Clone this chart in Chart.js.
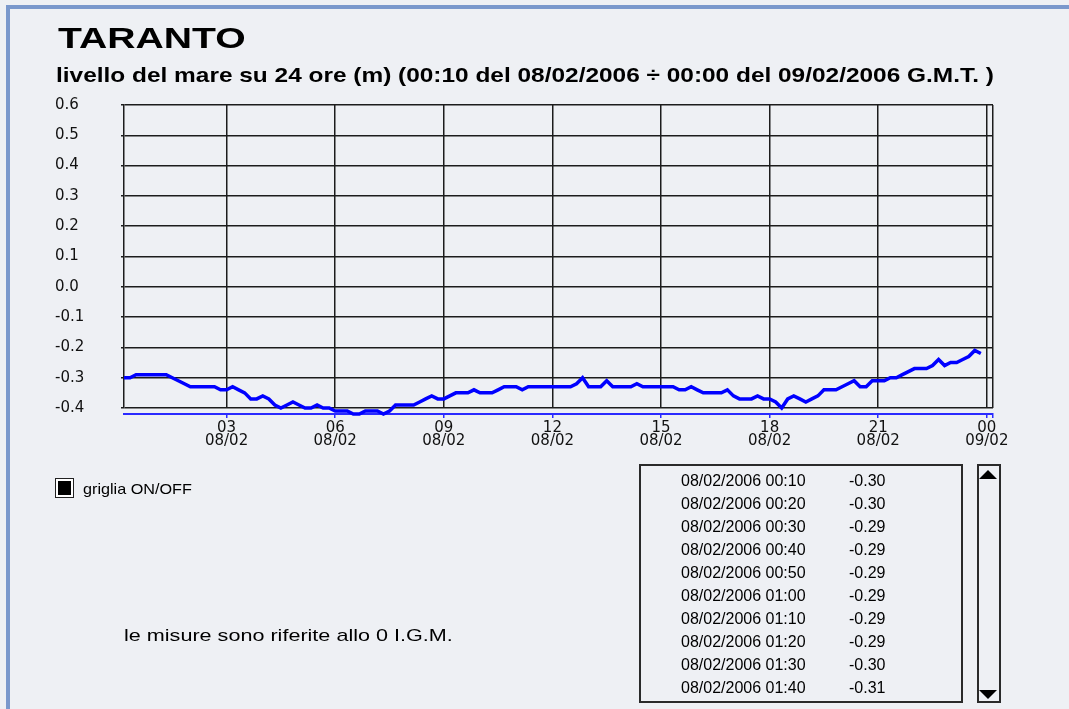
<!DOCTYPE html>
<html><head><meta charset="utf-8">
<script src="https://cdn.jsdelivr.net/npm/chart.js@4.4.0/dist/chart.umd.min.js"></script>
<style>
html,body{margin:0;padding:0;}
body{width:1069px;height:709px;overflow:hidden;background:#eef0f4;position:relative;font-family:"Liberation Sans",Arial,sans-serif;color:#000;}
#frame{position:absolute;left:6px;top:5px;right:0;bottom:0;border-left:4px solid #7a98cc;border-top:4px solid #7a98cc;}
canvas{position:absolute;left:0;top:0;}
.t{position:absolute;white-space:nowrap;transform-origin:0 0;}
#chk{position:absolute;left:55px;top:478px;width:17px;height:18px;border:1px solid #222;background:#000;box-shadow:inset 0 0 0 2px #fff;padding:0;}
#list{position:absolute;left:639px;top:464px;width:320px;height:235px;border:2px solid #2a2a2a;}
#rows{position:absolute;left:681px;top:469px;font:16px/23px "Liberation Sans",Arial,sans-serif;}
.row{position:relative;height:23px;white-space:nowrap;}
.row .v{position:absolute;left:168px;top:0;}
#scroll{position:absolute;left:977px;top:464px;width:20px;height:235px;border:2px solid #2a2a2a;}
#up{position:absolute;left:979px;top:470px;width:0;height:0;border-left:9px solid transparent;border-right:9px solid transparent;border-bottom:9px solid #000;}
#down{position:absolute;left:979px;top:690px;width:0;height:0;border-left:9px solid transparent;border-right:9px solid transparent;border-top:9px solid #000;}
</style>
</head><body>
<div id="frame"></div>
<canvas id="c" width="1069" height="709"></canvas>
<div class="t" style="left:58px;top:24px;font:bold 29px/29px 'Liberation Sans',Arial,sans-serif;transform:scaleX(1.35)">TARANTO</div>
<div class="t" style="left:56px;top:64px;font:bold 21px/21px 'Liberation Sans',Arial,sans-serif;transform:scaleX(1.163)">livello del mare su 24 ore (m) (00:10 del 08/02/2006 ÷ 00:00 del 09/02/2006 G.M.T. )</div>
<div id="chk"></div>
<div class="t" style="left:83px;top:481px;font:15px/15px 'Liberation Sans',Arial,sans-serif;transform:scaleX(1.08)">griglia ON/OFF</div>
<div class="t" style="left:124px;top:627px;font:17px/17px 'Liberation Sans',Arial,sans-serif;transform:scaleX(1.27)">le misure sono riferite allo 0 I.G.M.</div>
<div id="list"></div>
<div id="rows"></div>
<div id="scroll"></div>
<div id="up"></div>
<div id="down"></div>
<script>
// sea level (m), every 10 minutes from 00:10 to 23:50 of 08/02/2006
const levels = [
 -0.30,-0.30,-0.29,-0.29,-0.29,-0.29,-0.29,-0.29,-0.30,-0.31,-0.32,-0.33,
 -0.33,-0.33,-0.33,-0.33,-0.34,-0.34,-0.33,-0.34,-0.35,-0.37,-0.37,-0.36,
 -0.37,-0.39,-0.40,-0.39,-0.38,-0.39,-0.40,-0.40,-0.39,-0.40,-0.40,-0.41,
 -0.41,-0.41,-0.42,-0.42,-0.41,-0.41,-0.41,-0.42,-0.41,-0.39,-0.39,-0.39,
 -0.39,-0.38,-0.37,-0.36,-0.37,-0.37,-0.36,-0.35,-0.35,-0.35,-0.34,-0.35,
 -0.35,-0.35,-0.34,-0.33,-0.33,-0.33,-0.34,-0.33,-0.33,-0.33,-0.33,-0.33,
 -0.33,-0.33,-0.33,-0.32,-0.30,-0.33,-0.33,-0.33,-0.31,-0.33,-0.33,-0.33,
 -0.33,-0.32,-0.33,-0.33,-0.33,-0.33,-0.33,-0.33,-0.34,-0.34,-0.33,-0.34,
 -0.35,-0.35,-0.35,-0.35,-0.34,-0.36,-0.37,-0.37,-0.37,-0.36,-0.37,-0.37,
 -0.38,-0.40,-0.37,-0.36,-0.37,-0.38,-0.37,-0.36,-0.34,-0.34,-0.34,-0.33,
 -0.32,-0.31,-0.33,-0.33,-0.31,-0.31,-0.31,-0.30,-0.30,-0.29,-0.28,-0.27,
 -0.27,-0.27,-0.26,-0.24,-0.26,-0.25,-0.25,-0.24,-0.23,-0.21,-0.22
];
const startMinute = 10;
const stepMinute = 10;
const listDate = '08/02/2006';
const listCount = 10;
const tickHours = [3, 6, 9, 12, 15, 18, 21, 24];
const tickDates = ['08/02', '08/02', '08/02', '08/02', '08/02', '08/02', '08/02', '09/02'];
const yMin = -0.4, yMax = 0.6, yStep = 0.1;
const xMin = 10 / 60, xMax = 24.17;

const hours = levels.map((_, i) => (startMinute + i * stepMinute) / 60);
const pad2 = n => String(n).padStart(2, '0');

// list box
const rows = document.getElementById('rows');
for (let i = 0; i < listCount; i++) {
  const m = startMinute + i * stepMinute;
  const d = document.createElement('div');
  d.className = 'row';
  d.innerHTML = listDate + ' ' + pad2(Math.floor(m / 60)) + ':' + pad2(m % 60) +
    '<span class="v">' + levels[i].toFixed(2) + '</span>';
  rows.appendChild(d);
}

const setTicks = s => { s.ticks = tickHours.concat([xMax]).map(v => ({ value: v })); };
const gridCol = '#1c1c1c';
const blue = '#2a2aff';

new Chart(document.getElementById('c'), {
  type: 'line',
  data: {
    datasets: [{
      data: hours.map((h, i) => ({ x: h, y: levels[i] })),
      borderColor: '#0000ff',
      borderWidth: 3.5,
      pointRadius: 0,
      tension: 0,
      fill: false,
      clip: false
    }]
  },
  options: {
    responsive: false,
    animation: false,
    devicePixelRatio: 1,
    layout: { padding: { left: 55, right: 76, top: 105, bottom: 255 } },
    plugins: { legend: { display: false }, tooltip: { enabled: false } },
    scales: {
      x: {
        type: 'linear', position: 'bottom', min: xMin, max: xMax,
        afterBuildTicks: setTicks,
        grid: { color: gridCol, lineWidth: 1.5, drawTicks: true, tickLength: 6, tickColor: 'rgba(0,0,0,0)' },
        border: { display: false },
        ticks: { display: false },
        afterFit: s => { s.height = 6; }
      },
      x2: {
        type: 'linear', position: 'bottom', min: xMin, max: xMax,
        afterBuildTicks: setTicks,
        grid: { drawOnChartArea: false, color: blue, lineWidth: 1.5, tickLength: 4 },
        border: { display: true, color: blue, width: 2 },
        ticks: {
          autoSkip: false, maxRotation: 0, padding: 4, color: '#111',
          font: { family: 'DejaVu Sans', size: 15, lineHeight: 0.83 },
          callback: (v) => {
            const i = tickHours.indexOf(v);
            if (i < 0) return '';
            return [pad2(tickHours[i] % 24), tickDates[i]];
          }
        },
        afterFit: s => { s.height = 40; }
      },
      y: {
        min: yMin, max: yMax,
        ticks: {
          stepSize: yStep, color: '#111', crossAlign: 'far',
          font: { family: 'DejaVu Sans', size: 15 },
          callback: v => (Math.abs(v) < 1e-9 ? 0 : v).toFixed(1)
        },
        grid: { color: gridCol, lineWidth: 1.5, tickLength: 3 },
        border: { color: gridCol, width: 1.5 },
        afterFit: s => { s.width = 69; }
      }
    }
  }
});
</script>
</body></html>
